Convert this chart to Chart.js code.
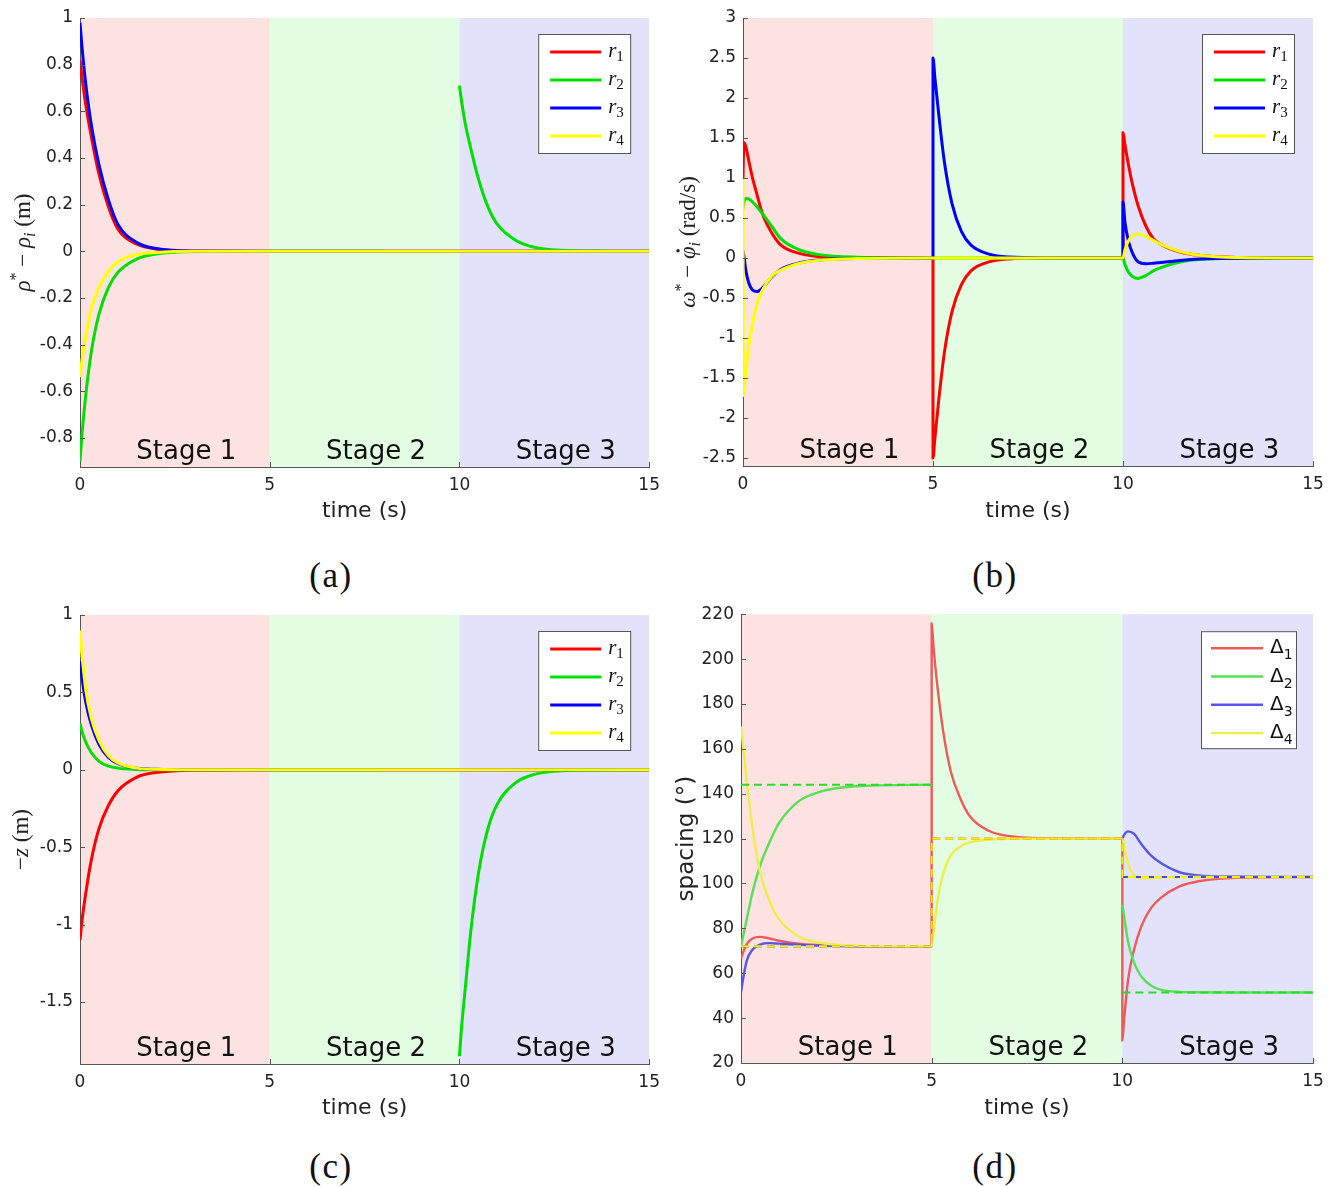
<!DOCTYPE html>
<html>
<head>
<meta charset="utf-8">
<script src="https://cdn.jsdelivr.net/npm/chart.js@4.4.1/dist/chart.umd.min.js"></script>
<style>
  html, body { margin: 0; padding: 0; background: #fff; }
  #page { position: relative; width: 1336px; height: 1187px; overflow: hidden; background: #fff; }
  canvas { position: absolute; }
  .cap { position: absolute; font: 35px "Liberation Serif", serif; letter-spacing: 1.5px; color: #111;
         transform: translate(-50%, -50%); white-space: nowrap; }
</style>
</head>
<body>
<div id="page">
  <canvas id="chartA" width="668" height="540" style="left:0;top:0"></canvas>
  <canvas id="chartB" width="668" height="540" style="left:668px;top:0"></canvas>
  <canvas id="chartC" width="668" height="540" style="left:0;top:597px"></canvas>
  <canvas id="chartD" width="668" height="540" style="left:668px;top:597px"></canvas>
  <div class="cap" style="left:331px;top:576px">(a)</div>
  <div class="cap" style="left:995px;top:576px">(b)</div>
  <div class="cap" style="left:331px;top:1167px">(c)</div>
  <div class="cap" style="left:995px;top:1167px">(d)</div>
</div>
<script>
// stages
const X_TICKS = [0, 5, 10, 15];
const STAGE_START = [0, 5, 10];
const STAGE_END = [5, 10, 15];
const STAGE_NAMES = ['Stage 1', 'Stage 2', 'Stage 3'];
const STAGE_LABEL_AT = [2.8, 7.8, 12.8];
const STAGE_COLORS = ['#fde2e2', '#e2fde2', '#e2e2fb'];

// time grid for (a), (c), (d) - each stage starts again at its switch time
const TIME = [0, 0.05, 0.15, 0.3, 0.5, 0.75, 1, 1.5, 2, 3, 5,
              5, 5.05, 5.15, 5.3, 5.5, 5.75, 6, 6.5, 7, 8, 10,
              10, 10.05, 10.15, 10.3, 10.5, 10.75, 11, 11.5, 12, 13, 15];
// finer start for (b)
const TIME_B = [0, 0.01, 0.03, 0.08, 0.15, 0.25, 0.37, 0.5, 0.75, 1, 1.5, 2, 3, 5,
                5, 5.05, 5.15, 5.3, 5.5, 5.75, 6, 6.5, 7, 8, 10,
                10, 10.05, 10.15, 10.25, 10.4, 10.6, 10.8, 11, 11.5, 12, 13, 15];
const TIME_REF = [0, 5, 5, 10, 10, 15];

const R_NAMES = ['r1', 'r2', 'r3', 'r4'];
const D_NAMES = ['Δ1', 'Δ2', 'Δ3', 'Δ4'];
const R_COLORS = ['#ff0000', '#00e000', '#0000ff', '#ffff00'];
const D_COLORS = ['#ee5a5a', '#55e055', '#5555ee', '#eeee48'];
const D_REF_COLORS = ['#ee4444', '#22e022', '#4444ee', '#f2f200'];

// (a) rho* - rho_i
const A_Y_TICKS = [-0.8, -0.6, -0.4, -0.2, 0, 0.2, 0.4, 0.6, 0.8, 1];
const A_R1 = [0.82, 0.75, 0.63, 0.49, 0.33, 0.19, 0.095, 0.03, 0.01, 0.001, 0,
              0, 0, 0, 0, 0, 0, 0, 0, 0, 0, 0,
              0, 0, 0, 0, 0, 0, 0, 0, 0, 0, 0];
const A_R2 = [-0.9, -0.79, -0.62, -0.43, -0.27, -0.155, -0.09, -0.033, -0.012, -0.001, 0,
              0, 0, 0, 0, 0, 0, 0, 0, 0, 0, null,
              0.71, 0.65, 0.55, 0.44, 0.31, 0.19, 0.115, 0.045, 0.016, 0.002, 0];
const A_R3 = [0.98, 0.88, 0.72, 0.54, 0.37, 0.22, 0.115, 0.037, 0.012, 0.001, 0,
              0, 0, 0, 0, 0, 0, 0, 0, 0, 0, 0,
              0, 0, 0, 0, 0, 0, 0, 0, 0, 0, 0];
const A_R4 = [-0.54, -0.47, -0.365, -0.245, -0.155, -0.085, -0.045, -0.014, -0.005, 0, 0,
              0, 0, 0, 0, 0, 0, 0, 0, 0, 0, 0,
              0, 0, 0, 0, 0, 0, 0, 0, 0, 0, 0];

// (b) omega* - phidot_i
const B_Y_TICKS = [-2.5, -2, -1.5, -1, -0.5, 0, 0.5, 1, 1.5, 2, 2.5, 3];
const B_R1 = [1.0, 1.25, 1.44, 1.38, 1.22, 1.0, 0.79, 0.57, 0.32, 0.16, 0.055, 0.018, 0.003, 0,
              -2.5, -2.25, -1.78, -1.18, -0.67, -0.33, -0.16, -0.045, -0.012, -0.001, 0,
              1.57, 1.42, 1.15, 0.92, 0.65, 0.4, 0.24, 0.17, 0.075, 0.033, 0.006, 0];
const B_R2 = [0.62, 0.66, 0.71, 0.745, 0.74, 0.7, 0.64, 0.56, 0.4, 0.24, 0.1, 0.042, 0.01, 0,
              0, 0, 0, 0, 0, 0, 0, 0, 0, 0, 0,
              0, -0.08, -0.18, -0.23, -0.255, -0.22, -0.16, -0.12, -0.05, -0.018, -0.003, 0];
const B_R3 = [0.09, 0.06, 0, -0.17, -0.31, -0.4, -0.42, -0.38, -0.24, -0.14, -0.06, -0.026, -0.006, 0,
              2.5, 2.25, 1.8, 1.2, 0.68, 0.33, 0.16, 0.045, 0.012, 0.001, 0,
              0.7, 0.45, 0.2, 0.06, -0.05, -0.072, -0.065, -0.055, -0.03, -0.013, -0.002, 0];
const B_R4 = [1.0, -1.72, -1.62, -1.38, -1.1, -0.82, -0.58, -0.41, -0.23, -0.15, -0.065, -0.028, -0.007, 0,
              0, 0, 0, 0, 0, 0, 0, 0, 0, 0, 0,
              0, 0.1, 0.22, 0.28, 0.3, 0.27, 0.22, 0.17, 0.08, 0.035, 0.006, 0];

// (c) -z
const C_Y_TICKS = [-1.5, -1, -0.5, 0, 0.5, 1];
const C_R1 = [-1.1, -0.98, -0.8, -0.58, -0.38, -0.23, -0.135, -0.047, -0.017, -0.002, 0,
              0, 0, 0, 0, 0, 0, 0, 0, 0, 0, 0,
              0, 0, 0, 0, 0, 0, 0, 0, 0, 0, 0];
const C_R2 = [0.3, 0.25, 0.18, 0.11, 0.055, 0.024, 0.011, 0.002, 0, 0, 0,
              0, 0, 0, 0, 0, 0, 0, 0, 0, 0, null,
              -1.85, -1.68, -1.42, -1.04, -0.67, -0.38, -0.22, -0.08, -0.028, -0.003, 0];
const C_R3 = [0.7, 0.6, 0.44, 0.29, 0.165, 0.08, 0.04, 0.01, 0.003, 0, 0,
              0, 0, 0, 0, 0, 0, 0, 0, 0, 0, 0,
              0, 0, 0, 0, 0, 0, 0, 0, 0, 0, 0];
const C_R4 = [0.9, 0.75, 0.52, 0.33, 0.19, 0.09, 0.045, 0.011, 0.003, 0, 0,
              0, 0, 0, 0, 0, 0, 0, 0, 0, 0, 0,
              0, 0, 0, 0, 0, 0, 0, 0, 0, 0, 0];

// (d) spacing in degrees, solid = actual, dashed = desired
const D_Y_TICKS = [20, 40, 60, 80, 100, 120, 140, 160, 180, 200, 220];
const D_1 = [66.5, 69, 73, 75.5, 76.2, 75.5, 74.5, 73.2, 72.6, 72.1, 72,
             216, 205, 188, 168, 150, 138, 130, 123.5, 121.2, 120.2, 120,
             30, 40, 57, 70, 81, 89, 93.5, 98.7, 101, 102.5, 102.9];
const D_2 = [72, 76, 84, 96, 108, 118.5, 127, 136.5, 140.5, 143.3, 144,
             null, null, null, null, null, null, null, null, null, null, null,
             90.5, 85, 74, 65, 58.5, 54.5, 52.7, 51.7, 51.5, 51.4, 51.4];
const D_3 = [51.5, 57, 65.5, 70.5, 72.8, 73.4, 73.2, 72.7, 72.3, 72.05, 72,
             null, null, null, null, null, null, null, null, null, null, null,
             120, 121.8, 123.2, 122.2, 117.5, 112.5, 109.2, 105, 103.6, 103.1, 102.9];
const D_4 = [170, 162, 146, 125, 105, 92, 84, 76.5, 73.8, 72.3, 72,
             72, 78, 92, 104, 112.5, 116.5, 118.3, 119.5, 119.9, 120, 120,
             120, 116, 108.5, 103.8, 102.3, 102.4, 102.7, 102.9, 102.9, 102.9, 102.9];
const D_REF1 = [72, 72, 120, 120, 102.9, 102.9];
const D_REF2 = [144, 144, null, null, 51.4, 51.4];
const D_REF3 = [72, 72, null, null, 102.9, 102.9];
const D_REF4 = [72, 72, 120, 120, 102.9, 102.9];

const SERIF = '"Liberation Serif"';
const SANS = '"DejaVu Sans"';
const TEXT = '#222';
const AXIS = '#555';

function drawParts(ctx, parts, x, y, center) {
  let w = 0;
  parts.forEach(p => { ctx.font = p.font; w += ctx.measureText(p.text).width; });
  let cx = center ? x - w / 2 : x;
  parts.forEach(p => {
    ctx.font = p.font;
    const pw = ctx.measureText(p.text).width;
    ctx.fillText(p.text, cx, y + (p.dy || 0));
    if (p.dot) {
      // dot accent above the glyph
      ctx.beginPath();
      ctx.arc(cx + pw / 2 + 2, y - 17, 1.7, 0, Math.PI * 2);
      ctx.fill();
    }
    cx += pw;
  });
}

const decor = {
  id: 'decor',
  beforeDraw(chart) {
    const { ctx, chartArea: a, scales: { x } } = chart;
    ctx.save();
    STAGE_START.forEach((s, i) => {
      const x0 = x.getPixelForValue(s);
      const x1 = x.getPixelForValue(STAGE_END[i]);
      ctx.fillStyle = STAGE_COLORS[i];
      ctx.fillRect(x0, a.top, x1 - x0, a.bottom - a.top);
    });
    ctx.restore();
  },
  afterDatasetsDraw(chart) {
    const { ctx, chartArea: a, scales: { x } } = chart;
    ctx.save();
    ctx.fillStyle = '#111';
    ctx.font = '26px ' + SANS;
    ctx.textAlign = 'center';
    ctx.textBaseline = 'alphabetic';
    STAGE_NAMES.forEach((n, i) => ctx.fillText(n, x.getPixelForValue(STAGE_LABEL_AT[i]), a.bottom - 8));
    ctx.restore();
  },
  afterDraw(chart, args, o) {
    const { ctx, chartArea: a, scales: { x, y } } = chart;
    ctx.save();
    // inward tick marks
    ctx.strokeStyle = AXIS;
    ctx.lineWidth = 1;
    ctx.beginPath();
    o.yTicks.forEach(v => {
      const py = Math.round(y.getPixelForValue(v)) + 0.5;
      ctx.moveTo(a.left, py); ctx.lineTo(a.left + 5, py);
    });
    X_TICKS.forEach(v => {
      const px = Math.round(x.getPixelForValue(v)) + 0.5;
      ctx.moveTo(px, a.bottom); ctx.lineTo(px, a.bottom - 5);
    });
    ctx.stroke();

    // y title
    ctx.fillStyle = TEXT;
    ctx.textAlign = 'left';
    ctx.textBaseline = 'alphabetic';
    ctx.save();
    ctx.translate(o.yTitleX, (a.top + a.bottom) / 2);
    ctx.rotate(-Math.PI / 2);
    drawParts(ctx, o.yTitle, 0, 8, true);
    ctx.restore();

    // legend box
    const L = o.legend;
    const bx = a.right - L.right - L.w;
    const by = a.top + L.top;
    ctx.fillStyle = '#fff';
    ctx.fillRect(bx, by, L.w, L.h);
    ctx.strokeStyle = AXIS;
    ctx.strokeRect(bx + 0.5, by + 0.5, L.w, L.h);
    const items = chart.data.datasets.filter(d => d.inLegend);
    items.forEach((d, i) => {
      const ry = by + L.first + i * L.step;
      ctx.strokeStyle = d.borderColor;
      ctx.lineWidth = d.borderWidth;
      ctx.beginPath();
      ctx.moveTo(bx + L.lineX, ry); ctx.lineTo(bx + L.lineX + L.lineLen, ry);
      ctx.stroke();
      ctx.fillStyle = '#111';
      const base = d.label.slice(0, -1);
      const sub = d.label.slice(-1);
      const parts = o.legendMath
        ? [{ text: base, font: 'italic 21px ' + SERIF }, { text: sub, font: '15px ' + SERIF, dy: 4 }]
        : [{ text: base, font: '20px ' + SANS }, { text: sub, font: '14px ' + SANS, dy: 6 }];
      drawParts(ctx, parts, bx + L.textX, ry + 5, false);
    });
    ctx.restore();
  }
};

function buildChart(id, cfg) {
  const datasets = cfg.series.map((vals, i) => ({
    label: cfg.names[i],
    data: cfg.time.map((t, k) => ({ x: t, y: vals[k] })),
    borderColor: cfg.colors[i],
    borderWidth: cfg.lineWidth,
    cubicInterpolationMode: 'monotone',
    order: 20 - i,
    inLegend: true
  }));
  (cfg.refs || []).forEach((vals, i) => datasets.push({
    label: cfg.names[i] + ' ref',
    data: TIME_REF.map((t, k) => ({ x: t, y: vals[k] })),
    borderColor: cfg.refColors[i],
    borderWidth: 2,
    borderDash: [8, 5],
    tension: 0,
    order: 10 - i,
    inLegend: false
  }));

  return new Chart(document.getElementById(id), {
    type: 'line',
    data: { datasets: datasets },
    plugins: [decor],
    options: {
      responsive: false,
      animation: false,
      spanGaps: false,
      layout: { padding: { left: 0, top: cfg.top, right: cfg.right, bottom: 0 } },
      elements: { point: { radius: 0 }, line: { borderCapStyle: 'butt', borderJoinStyle: 'round' } },
      plugins: {
        legend: { display: false },
        tooltip: { enabled: false },
        decor: {
          yTicks: cfg.yTicks,
          yTitle: cfg.yTitle,
          yTitleX: cfg.yTitleX,
          legend: cfg.legend,
          legendMath: cfg.legendMath
        }
      },
      scales: {
        x: {
          type: 'linear',
          min: 0,
          max: 15,
          afterBuildTicks: s => { s.ticks = X_TICKS.map(v => ({ value: v })); },
          afterFit: s => { s.height = 540 - cfg.bottom; },
          grid: { display: true, drawOnChartArea: false, drawTicks: false },
          border: { display: true, color: AXIS, width: 1 },
          ticks: { padding: 8, color: TEXT, font: { family: 'DejaVu Sans', size: 17 }, maxRotation: 0, autoSkip: false, callback: v => String(v) },
          title: { display: true, text: 'time (s)', color: TEXT, font: { family: 'DejaVu Sans', size: 22 }, padding: { top: 0, bottom: 16 } }
        },
        y: {
          type: 'linear',
          min: cfg.yMin,
          max: cfg.yMax,
          afterBuildTicks: s => { s.ticks = cfg.yTicks.map(v => ({ value: v })); },
          afterFit: s => { s.width = cfg.left; },
          grid: { display: true, drawOnChartArea: false, drawTicks: false },
          border: { display: true, color: AXIS, width: 1 },
          ticks: { padding: 7, color: TEXT, font: { family: 'DejaVu Sans', size: 17 }, autoSkip: false, callback: v => String(v) }
        }
      }
    }
  });
}

const LEG_R = { right: 19, top: 16, w: 92, h: 119, first: 18, step: 28, lineX: 12, lineLen: 51, textX: 70 };
const LEG_D = { right: 17, top: 17, w: 95, h: 117, first: 17, step: 28.3, lineX: 10, lineLen: 52, textX: 69 };
const T = 'italic 23px ' + SERIF;
const R = '23px ' + SERIF;
const SUP = '16px ' + SERIF;
const SUB = 'italic 16px ' + SERIF;

buildChart('chartA', {
  time: TIME, series: [A_R1, A_R2, A_R3, A_R4], names: R_NAMES, colors: R_COLORS, lineWidth: 3,
  yMin: -0.925, yMax: 1, yTicks: A_Y_TICKS,
  left: 80, right: 18, top: 18, bottom: 467,
  yTitleX: 22,
  yTitle: [{ text: 'ρ', font: T }, { text: '*', font: SUP, dy: -9 }, { text: ' − ', font: R },
           { text: 'ρ', font: T }, { text: 'i', font: SUB, dy: 5 }, { text: ' (m)', font: R }],
  legend: LEG_R, legendMath: true
});

buildChart('chartB', {
  time: TIME_B, series: [B_R1, B_R2, B_R3, B_R4], names: R_NAMES, colors: R_COLORS, lineWidth: 3,
  yMin: -2.6, yMax: 3, yTicks: B_Y_TICKS,
  left: 75, right: 23, top: 18, bottom: 466,
  yTitleX: 19,
  yTitle: [{ text: 'ω', font: T }, { text: '*', font: SUP, dy: -9 }, { text: ' − ', font: R },
           { text: 'φ', font: T, dot: true }, { text: 'i', font: SUB, dy: 5 }, { text: ' (rad/s)', font: R }],
  legend: LEG_R, legendMath: true
});

buildChart('chartC', {
  time: TIME, series: [C_R1, C_R2, C_R3, C_R4], names: R_NAMES, colors: R_COLORS, lineWidth: 3,
  yMin: -1.9, yMax: 1, yTicks: C_Y_TICKS,
  left: 80, right: 18, top: 18, bottom: 467,
  yTitleX: 20,
  yTitle: [{ text: '−', font: R }, { text: 'z', font: T }, { text: ' (m)', font: R }],
  legend: LEG_R, legendMath: true
});

buildChart('chartD', {
  time: TIME, series: [D_1, D_2, D_3, D_4], names: D_NAMES, colors: D_COLORS, lineWidth: 2.4,
  refs: [D_REF1, D_REF2, D_REF3, D_REF4], refColors: D_REF_COLORS,
  yMin: 20, yMax: 220, yTicks: D_Y_TICKS,
  left: 73, right: 23, top: 16, bottom: 466,
  yTitleX: 17,
  yTitle: [{ text: 'spacing (°)', font: '23px ' + SANS }],
  legend: LEG_D, legendMath: false
});
</script>
</body>
</html>
